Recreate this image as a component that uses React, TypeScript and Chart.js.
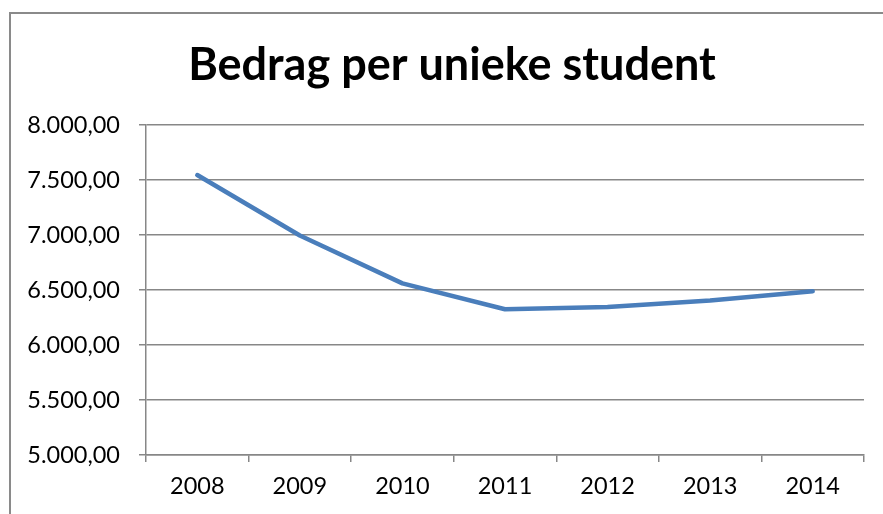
import React, { useEffect, useRef } from "react";
import { Chart, registerables } from "chart.js";

Chart.register(...registerables);

const years = ["2008", "2009", "2010", "2011", "2012", "2013", "2014"];
const amounts = [7545, 6995, 6560, 6325, 6345, 6405, 6488];
const yMin = 5000;
const yMax = 8000;
const yStep = 500;
const titleText = "Bedrag per unieke student";

function formatNl(v: number): string {
  const fixed = v.toFixed(2);
  const [intPart, dec] = fixed.split(".");
  const withDots = intPart.replace(/\B(?=(\d{3})+(?!\d))/g, ".");
  return withDots + "," + dec;
}

const titlePlugin = {
  id: "offsetTitle",
  afterDraw(chart: any) {
    const ctx = chart.ctx;
    ctx.save();
    ctx.font = "bold 45px Lato";
    ctx.fillStyle = "#000";
    ctx.textAlign = "center";
    ctx.textBaseline = "alphabetic";
    ctx.fillText(titleText, 452, 80);
    ctx.restore();
  },
};

export default function App() {
  const ref = useRef<HTMLCanvasElement | null>(null);

  useEffect(() => {
    if (!ref.current) return;
    const gridColor = "#878787";
    const chart = new Chart(ref.current, {
      type: "line",
      data: {
        labels: years,
        datasets: [
          {
            data: amounts,
            borderColor: "#4a7ebb",
            borderWidth: 4.5,
            pointRadius: 0,
            tension: 0,
            borderCapStyle: "round",
            borderJoinStyle: "round",
            fill: false,
          },
        ],
      },
      plugins: [titlePlugin],
      options: {
        responsive: false,
        animation: false,
        devicePixelRatio: 1,
        layout: { padding: { left: 21, right: 19, top: 125, bottom: 0 } },
        plugins: {
          legend: { display: false },
          tooltip: { enabled: false },
          title: { display: false },
        },
        scales: {
          x: {
            offset: true,
            grid: {
              offset: true,
              drawOnChartArea: false,
              drawTicks: true,
              tickLength: 7,
              color: gridColor,
              lineWidth: 1.5,
            },
            border: { display: true, color: gridColor, width: 1.5 },
            ticks: {
              color: "#000",
              font: { family: "Lato", size: 23.5 },
              padding: 10,
              maxRotation: 0,
            },
            afterFit: (scale: any) => {
              scale.height = 59;
            },
          },
          y: {
            min: yMin,
            max: yMax,
            grid: {
              color: gridColor,
              lineWidth: 1.5,
              tickLength: 7,
            },
            border: { display: true, color: gridColor, width: 1.5 },
            ticks: {
              stepSize: yStep,
              color: "#000",
              font: { family: "Lato", size: 23.5 },
              padding: 19,
              callback: (v: any) => formatNl(Number(v)),
            },
            afterFit: (scale: any) => {
              scale.width = 125;
            },
          },
        },
      },
    });
    return () => chart.destroy();
  }, []);

  return (
    <div
      style={{
        position: "fixed",
        left: 0,
        top: 0,
        width: 883,
        height: 514,
        overflow: "hidden",
        background: "#fff",
      }}
    >
      <div
        style={{
          position: "absolute",
          left: 9,
          top: 12,
          width: 1000,
          height: 1000,
          borderLeft: "2px solid #8a8a8a",
          borderTop: "2px solid #8a8a8a",
        }}
      />
      <canvas
        ref={ref}
        width={883}
        height={514}
        style={{ position: "absolute", left: 0, top: 0, width: 883, height: 514 }}
      />
    </div>
  );
}
